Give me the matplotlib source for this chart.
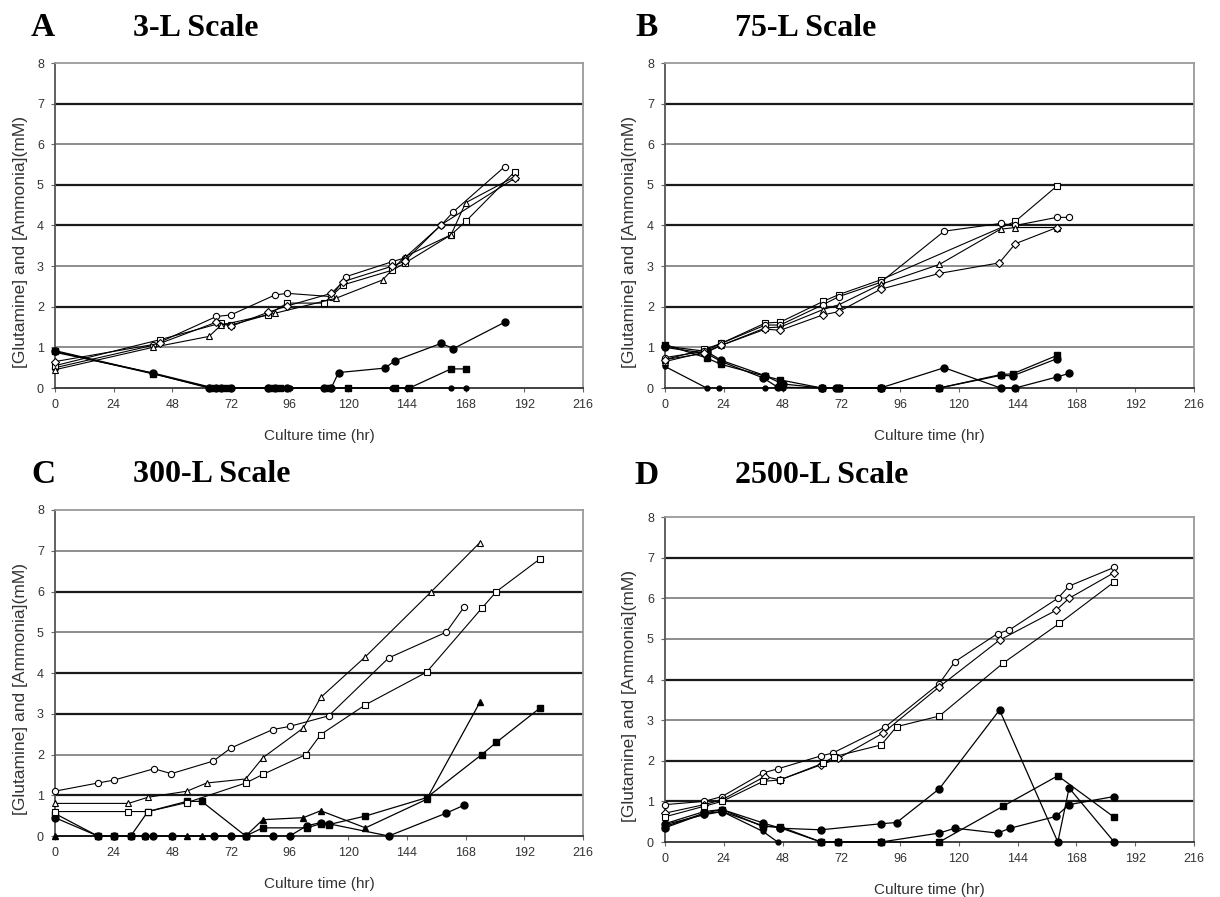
import matplotlib
matplotlib.use("Agg")
import matplotlib.pyplot as plt

# ---------------- data ----------------
# Culture time (hr) and concentration (mM); open markers = ammonia, filled = glutamine
x_ticks = [0, 24, 48, 72, 96, 120, 144, 168, 192, 216]
y_ticks = [0, 1, 2, 3, 4, 5, 6, 7, 8]
panel_letters = ["A", "B", "C", "D"]
panel_titles = ["3-L Scale", "75-L Scale", "300-L Scale", "2500-L Scale"]

# Panel A: 3-L
A_amm1_t = [0, 40, 66, 72, 90, 95, 113, 119, 138, 143, 158, 163, 184]
A_amm1_v = [0.50, 1.05, 1.76, 1.80, 2.29, 2.33, 2.25, 2.74, 3.11, 3.20, 4.01, 4.34, 5.45]
A_amm2_t = [0, 43, 68, 72, 87, 95, 110, 118, 138, 143, 162, 168, 188]
A_amm2_v = [0.55, 1.19, 1.60, 1.55, 1.80, 2.09, 2.09, 2.54, 2.90, 3.07, 3.77, 4.10, 5.32]
A_amm3_t = [0, 40, 63, 68, 90, 115, 134, 143, 162, 168, 188]
A_amm3_v = [0.45, 1.00, 1.27, 1.55, 1.84, 2.21, 2.66, 3.23, 3.77, 4.56, 5.20]
A_amm4_t = [0, 43, 66, 72, 87, 95, 113, 118, 138, 143, 158, 188]
A_amm4_v = [0.65, 1.10, 1.62, 1.52, 1.86, 2.02, 2.33, 2.62, 3.00, 3.12, 4.02, 5.16]
A_gln1_t = [0, 40, 63, 66, 68, 72, 87, 90, 95, 110, 113, 116, 135, 139, 158, 163, 184]
A_gln1_v = [0.92, 0.36, 0, 0, 0, 0, 0, 0, 0, 0, 0, 0.38, 0.49, 0.67, 1.10, 0.97, 1.62]
A_gln2_t = [0, 40, 64, 70, 88, 92, 112, 120, 139, 145, 162, 168]
A_gln2_v = [0.90, 0.35, 0, 0, 0, 0, 0, 0, 0, 0, 0.47, 0.47]
A_gln3_t = [0, 40, 65, 72, 90, 96, 111, 120, 138, 144, 162, 168]
A_gln3_v = [0.88, 0.37, 0, 0, 0, 0, 0, 0, 0, 0, 0, 0]

# Panel B: 75-L
B_amm1_t = [0, 16, 23, 41, 47, 64.5, 71, 88, 143, 160]
B_amm1_v = [0.70, 0.95, 1.10, 1.60, 1.62, 2.13, 2.30, 2.66, 4.10, 4.97]
B_amm2_t = [0, 16, 23, 41, 47, 64.5, 71, 88, 114, 137, 143, 160, 165]
B_amm2_v = [0.75, 0.90, 1.10, 1.55, 1.55, 2.05, 2.25, 2.60, 3.86, 4.05, 4.00, 4.20, 4.20]
B_amm3_t = [0, 16, 23, 41, 47, 64.5, 71, 88, 112, 137, 143, 160]
B_amm3_v = [0.65, 0.88, 1.05, 1.48, 1.50, 1.93, 2.05, 2.55, 3.04, 3.91, 3.95, 3.95]
B_amm4_t = [0, 16, 23, 41, 47, 64.5, 71, 88, 112, 136.5, 143, 160]
B_amm4_v = [0.70, 0.85, 1.05, 1.45, 1.42, 1.80, 1.88, 2.43, 2.82, 3.08, 3.55, 3.95]
B_gln1_t = [0, 17, 23, 41, 47, 64, 71, 88, 112, 137, 142, 160]
B_gln1_v = [1.07, 0.74, 0.58, 0.29, 0.20, 0, 0, 0, 0, 0.33, 0.35, 0.80]
B_gln2_t = [0, 17, 23, 41, 48, 64, 71, 88, 114, 137, 143, 160, 165]
B_gln2_v = [1.03, 0.90, 0.68, 0.30, 0.10, 0, 0, 0, 0.50, 0, 0, 0.27, 0.36]
B_gln3_t = [0, 17, 22, 41, 48]
B_gln3_v = [0.53, 0, 0, 0, 0]
B_gln4_t = [0, 17, 23, 40, 46, 64, 70, 88, 112, 137, 142, 160]
B_gln4_v = [1.00, 0.85, 0.65, 0.25, 0.02, 0, 0, 0, 0, 0.31, 0.30, 0.72]

# Panel C: 300-L
C_amm1_t = [0, 30, 38, 54, 62, 78, 85, 101.6, 108.7, 127, 154, 173.8]
C_amm1_v = [0.80, 0.80, 0.95, 1.10, 1.30, 1.40, 1.92, 2.65, 3.40, 4.40, 6.00, 7.20]
C_amm2_t = [0, 17.5, 24, 40.5, 47.6, 64.8, 72, 89, 96, 112, 136.5, 160, 167.5]
C_amm2_v = [1.10, 1.30, 1.37, 1.65, 1.53, 1.84, 2.16, 2.61, 2.69, 2.95, 4.37, 5.00, 5.63]
C_amm3_t = [0, 30, 38, 54, 78, 85, 102.7, 108.7, 127, 152, 174.6, 180.6, 198.4]
C_amm3_v = [0.60, 0.60, 0.60, 0.82, 1.30, 1.51, 2.00, 2.49, 3.22, 4.02, 5.59, 6.00, 6.80]
C_gln1_t = [0, 24, 37, 48, 54, 60, 78, 85, 101.6, 108.7, 127, 152, 173.8]
C_gln1_v = [0, 0, 0, 0, 0, 0, 0, 0.40, 0.45, 0.62, 0.20, 0.90, 3.28]
C_gln2_t = [0, 17.5, 24, 31, 38, 54, 60, 78, 85, 103, 108.7, 112, 127, 152, 174.6, 180.6, 198.4]
C_gln2_v = [0.55, 0, 0, 0, 0.60, 0.85, 0.85, 0, 0.20, 0.20, 0.30, 0.28, 0.49, 0.94, 2.00, 2.30, 3.14]
C_gln3_t = [0, 17.5, 24, 31, 37, 40, 48, 65, 72, 78, 89, 96, 103, 108.7, 112, 136.5, 160, 167.5]
C_gln3_v = [0.45, 0, 0, 0, 0, 0, 0, 0, 0, 0, 0, 0, 0.25, 0.33, 0.30, 0, 0.56, 0.76]

# Panel D: 2500-L
D_amm1_t = [0, 16, 23.3, 40, 46, 63.7, 68.5, 89.9, 112, 118.4, 135.8, 140.6, 160.4, 165, 183.4]
D_amm1_v = [0.92, 1.00, 1.12, 1.70, 1.80, 2.12, 2.19, 2.83, 3.90, 4.44, 5.13, 5.22, 6.00, 6.30, 6.76]
D_amm2_t = [0, 16, 23.3, 40.7, 47, 63.7, 70.8, 89, 112, 136.6, 159.6, 165, 183.4]
D_amm2_v = [0.71, 0.92, 1.04, 1.61, 1.53, 1.90, 2.06, 2.68, 3.82, 4.97, 5.70, 6.00, 6.63]
D_amm3_t = [0, 16, 23.3, 40, 47, 64.5, 69, 88.3, 94.6, 112, 138, 161, 183.4]
D_amm3_v = [0.62, 0.88, 1.00, 1.49, 1.53, 1.94, 2.10, 2.39, 2.84, 3.10, 4.40, 5.38, 6.40]
D_gln1_t = [0, 16, 23.3, 40, 47, 63.7, 70.8, 88.3, 112, 138, 160.4, 183.4]
D_gln1_v = [0.38, 0.71, 0.80, 0.38, 0.38, 0, 0, 0, 0, 0.88, 1.63, 0.61]
D_gln2_t = [0, 16, 23.3, 40, 46]
D_gln2_v = [0.43, 0.67, 0.75, 0.26, 0]
D_gln3_t = [0, 16, 23.3, 40, 47, 63.7, 88.3, 94.6, 112, 136.6, 160.4, 165, 183.4]
D_gln3_v = [0.45, 0.75, 0.80, 0.47, 0.34, 0.30, 0.45, 0.48, 1.31, 3.25, 0, 1.33, 0]
D_gln4_t = [0, 16, 23.3, 40, 47, 63.7, 70.8, 88.3, 112, 118.4, 135.8, 141, 159.6, 165, 183.4]
D_gln4_v = [0.35, 0.70, 0.75, 0.40, 0.35, 0, 0, 0, 0.22, 0.34, 0.22, 0.34, 0.63, 0.92, 1.12]

# (time, value, marker, filled) per panel
panels = [
    [(A_amm1_t, A_amm1_v, "o", False), (A_amm2_t, A_amm2_v, "s", False),
     (A_amm3_t, A_amm3_v, "^", False), (A_amm4_t, A_amm4_v, "D", False),
     (A_gln1_t, A_gln1_v, "o", True), (A_gln2_t, A_gln2_v, "s", True),
     (A_gln3_t, A_gln3_v, ".", True)],
    [(B_amm1_t, B_amm1_v, "s", False), (B_amm2_t, B_amm2_v, "o", False),
     (B_amm3_t, B_amm3_v, "^", False), (B_amm4_t, B_amm4_v, "D", False),
     (B_gln1_t, B_gln1_v, "s", True), (B_gln2_t, B_gln2_v, "o", True),
     (B_gln3_t, B_gln3_v, ".", True), (B_gln4_t, B_gln4_v, "o", True)],
    [(C_amm1_t, C_amm1_v, "^", False), (C_amm2_t, C_amm2_v, "o", False),
     (C_amm3_t, C_amm3_v, "s", False),
     (C_gln1_t, C_gln1_v, "^", True), (C_gln2_t, C_gln2_v, "s", True),
     (C_gln3_t, C_gln3_v, "o", True)],
    [(D_amm1_t, D_amm1_v, "o", False), (D_amm2_t, D_amm2_v, "D", False),
     (D_amm3_t, D_amm3_v, "s", False),
     (D_gln1_t, D_gln1_v, "s", True), (D_gln2_t, D_gln2_v, ".", True),
     (D_gln3_t, D_gln3_v, "o", True), (D_gln4_t, D_gln4_v, "o", True)],
]

# gridlines that came out darker in the scan
dark_grid = [[2, 4, 5, 7], [2, 4, 5, 7], [1, 3, 4, 6], [1, 2, 4, 7]]

# ---------------- layout (pixels of a 1220x897 canvas) ----------------
W, H = 1220, 897
# left, right, top, bottom of each plot area
boxes = [(55, 583, 63, 388), (665, 1194, 63, 388),
         (55, 583, 510, 836), (665, 1194, 517, 842)]
title_y = [28, 28, 474, 475]
letter_x = [31, 635, 31, 634]
name_x = [133, 735, 133, 735]

fig = plt.figure(figsize=(W / 100, H / 100), dpi=100)
sans = "Liberation Sans"
serif = "Liberation Serif"

for i in range(4):
    l, r, t, b = boxes[i]
    ax = fig.add_axes([l / W, 1 - b / H, (r - l) / W, (b - t) / H])

    for g in y_ticks[1:-1]:
        if g in dark_grid[i]:
            ax.axhline(g, color="#1a1a1a", lw=1.6, zorder=1)
        else:
            ax.axhline(g, color="#7a7a7a", lw=1.2, zorder=1)

    for t_, v_, m, filled in panels[i]:
        if filled:
            ms = 3.5 if m == "." else 5
            mk = "o" if m == "." else m
            ax.plot(t_, v_, color="black", lw=0.9, marker=mk, ms=ms,
                    mfc="black", mec="black", zorder=3, clip_on=False)
        else:
            ax.plot(t_, v_, color="black", lw=0.8, marker=m, ms=4.5,
                    mfc="white", mec="black", mew=0.8, zorder=4, clip_on=False)

    ax.set_xlim(0, 216)
    ax.set_ylim(0, 8)
    ax.set_xticks(x_ticks)
    ax.set_yticks(y_ticks)
    ax.tick_params(direction="out", length=3, width=0.8, color="#666666",
                   labelsize=9, labelcolor="#333333", pad=5)
    for lab in ax.get_xticklabels() + ax.get_yticklabels():
        lab.set_family(sans)

    for side in ["top", "right"]:
        ax.spines[side].set_color("#9a9a9a")
        ax.spines[side].set_linewidth(1.3)
    ax.spines["left"].set_color("#555555")
    ax.spines["left"].set_linewidth(1.3)
    ax.spines["bottom"].set_color("#333333")
    ax.spines["bottom"].set_linewidth(1.3)

    ax.set_xlabel("Culture time (hr)", family=sans, fontsize=11, color="#333333")
    ax.xaxis.set_label_coords(0.5, -0.125)
    ax.set_ylabel("[Glutamine] and [Ammonia](mM)", family=sans, fontsize=12.5,
                  color="#333333")
    ax.yaxis.set_label_coords(-0.052, 0.45)

    fig.text(letter_x[i] / W, 1 - title_y[i] / H, panel_letters[i], family=serif,
             weight="bold", fontsize=24, va="center", ha="left")
    fig.text(name_x[i] / W, 1 - title_y[i] / H, panel_titles[i], family=serif,
             weight="bold", fontsize=23, va="center", ha="left")

fig.savefig("out.png", dpi=100, facecolor="white")
